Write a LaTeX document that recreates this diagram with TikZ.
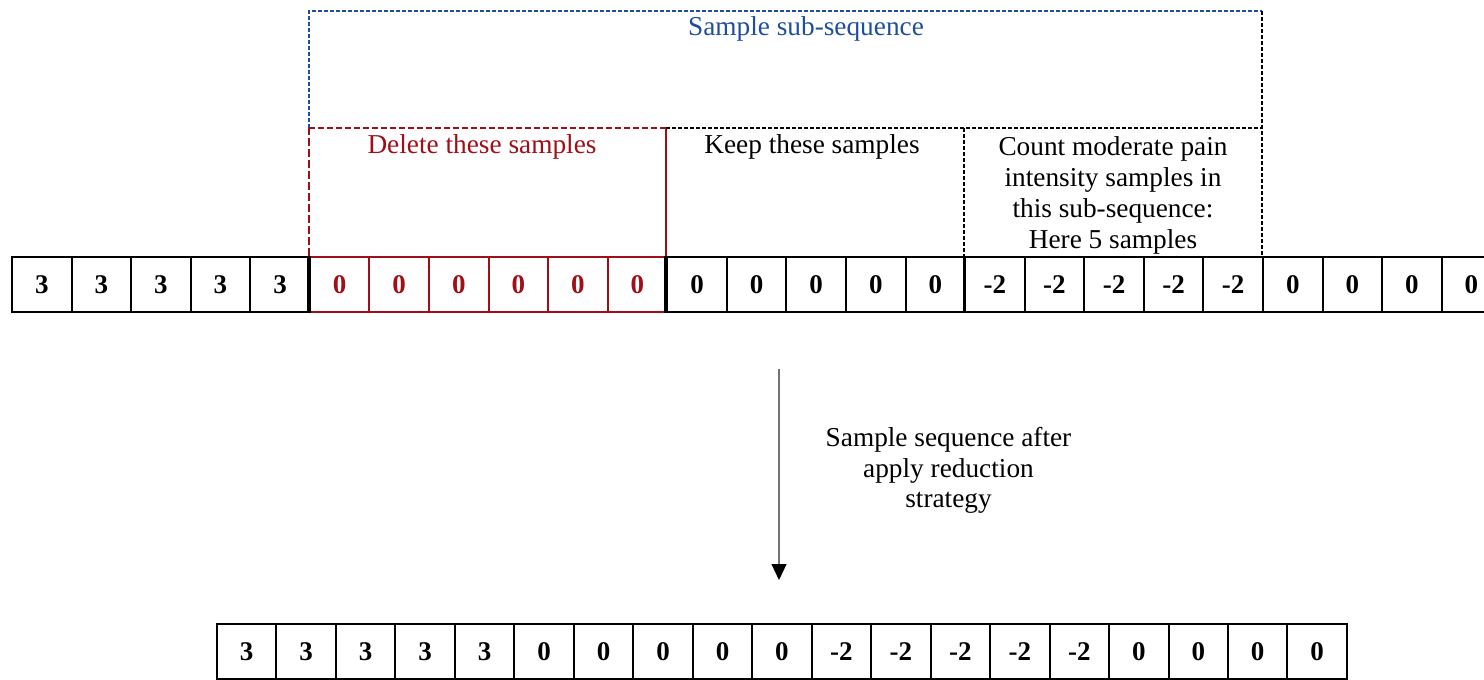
\documentclass[tikz,border=0pt]{standalone}
\usepackage{fontspec}
\setmainfont{Liberation Serif}
\usetikzlibrary{arrows.meta}
\definecolor{delred}{HTML}{A00F18}
\definecolor{subblue}{HTML}{1F4E9F}
\begin{document}
\begin{tikzpicture}[x=1pt,y=-1pt,
  cell/.style={draw=black, line width=2pt, minimum width=59.57pt, minimum height=55pt,
    inner sep=0pt, font=\fontsize{27}{30}\selectfont\bfseries},
  bcell/.style={cell, minimum width=59.47pt},
  lbl/.style={inner sep=0pt, font=\fontsize{27.3}{29.5}\selectfont},
  sep/.style={draw=black, line width=3.6pt},
  bluedash/.style={draw=subblue, line width=1.4pt, dash pattern=on 4pt off 2pt},
  blackdash/.style={draw=black, line width=1.4pt, dash pattern=on 4pt off 2pt},
  reddash/.style={draw=delred, line width=1.8pt, dash pattern=on 6pt off 3pt},
  redthick/.style={draw=delred, line width=2.4pt, dash pattern=on 8pt off 3pt},
  flow/.style={draw=black!55, line width=1.2pt, -{Triangle[length=16pt,width=15pt,color=black]}}]
\useasboundingbox (0,0) rectangle (1484,680);

% original sample sequence
\foreach \v/\c [count=\i from 0] in {3/black,3/black,3/black,3/black,3/black,
    0/delred,0/delred,0/delred,0/delred,0/delred,0/delred,
    0/black,0/black,0/black,0/black,0/black,
    -2/black,-2/black,-2/black,-2/black,-2/black,
    0/black,0/black,0/black,0/black}
  \node[cell, draw=\c, text=\c] (t\i) at ({12+(\i+0.5)*59.57}, 284.5) {\v};

% group separators
\draw[sep] (t5.north west) -- (t5.south west);
\draw[sep] (t11.north west) -- (t11.south west);
\draw[draw=black, line width=2.6pt] (t16.north west) -- (t16.south west);

% heights of the region frames
\coordinate (lvlA) at (0,11);
\coordinate (lvlB) at (0,128);

% sub-sequence frame
\draw[bluedash] (t5.north west |- lvlB) -- (t5.north west |- lvlA) -- (t21.north west |- lvlA);
\draw[blackdash] (t21.north west |- lvlA) -- (t21.north west);
% delete frame
\draw[redthick] (t5.north west) -- (t5.north west |- lvlB);
\draw[reddash] (t5.north west |- lvlB) -- (t11.north west |- lvlB);
\draw[draw=delred, line width=2pt] (t11.north west |- lvlB) -- (t11.north west);
% keep and count frames
\draw[blackdash] (t11.north west |- lvlB) -- (t21.north west |- lvlB);
\draw[blackdash] (t16.north west |- lvlB) -- (t16.north west);

% frame labels
\node[lbl, text=subblue, anchor=base] (subLbl) at (806,35) {Sample sub-sequence};
\node[lbl, text=delred, anchor=base] (delLbl) at (482,153) {Delete these samples};
\node[lbl, anchor=base] (keepLbl) at (812,153) {Keep these samples};
\node[lbl, align=center, anchor=north, font=\fontsize{27.3}{31}\selectfont] (cntLbl) at (1113,136)
  {Count moderate pain\\intensity samples in\\this sub-sequence:\\Here 5 samples};

% reduction step
\coordinate (arrTop) at (779,369);
\coordinate (arrBot) at (779,580);
\draw[flow] (arrTop) -- (arrBot);
\node[lbl, align=center, anchor=north, font=\fontsize{27.3}{30.5}\selectfont] (arrLbl) at (948.5,427.5)
  {Sample sequence after\\apply reduction\\strategy};

% reduced sample sequence
\foreach \v [count=\i from 0] in {3,3,3,3,3,0,0,0,0,0,-2,-2,-2,-2,-2,0,0,0,0}
  \node[bcell] (b\i) at ({217+(\i+0.5)*59.47}, 651.5) {\v};
\end{tikzpicture}
\end{document}
